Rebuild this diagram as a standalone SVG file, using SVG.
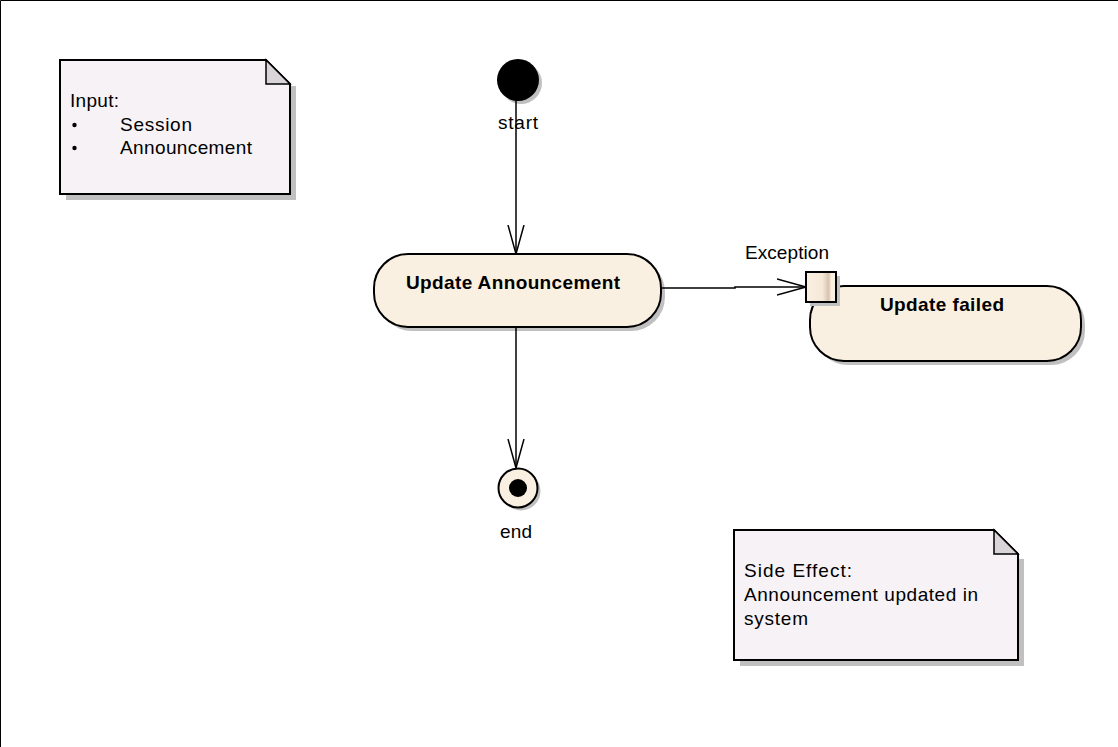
<svg xmlns="http://www.w3.org/2000/svg" width="1118" height="747" viewBox="0 0 1118 747">
<style>
.txt{font-family:"Liberation Sans",Arial,sans-serif;font-size:19px;fill:#000}
.bold{font-weight:bold}
.note{fill:#f6f2f6;stroke:#000;stroke-width:2}
.fold{fill:#d8d4d8;stroke:#000;stroke-width:1.5}
.shadow{fill:#c0c0c0}
.act{fill:#faf0e2;stroke:#000;stroke-width:2}
.edge{fill:none;stroke:#000;stroke-width:1.5}
</style>
<defs>
<marker id="open" viewBox="0 0 30 20" refX="29" refY="10" markerWidth="30" markerHeight="20" markerUnits="userSpaceOnUse" orient="auto">
<path d="M0,2 L29,10 L0,18" fill="none" stroke="#000" stroke-width="1.5"/>
</marker>
<linearGradient id="pinGrad" x1="0" y1="0" x2="1" y2="0">
<stop offset="0" stop-color="#faf0e2"/>
<stop offset="0.55" stop-color="#f5e8d8"/>
<stop offset="0.75" stop-color="#d8c4ae"/>
<stop offset="0.85" stop-color="#faf0e2"/>
<stop offset="1" stop-color="#faf0e2"/>
</linearGradient>
</defs>
<rect x="0" y="0" width="1118" height="747" fill="#fff"/>
<path d="M0.5,747 V0.5 H1118" fill="none" stroke="#000" stroke-width="1"/>

<g id="note-input">
<path class="shadow" d="M296,86 L296,200 L66,200 L66,194 L290,194 L290,86 Z"/>
<path class="note" d="M60,60 L266,60 L290,84 L290,194 L60,194 Z"/>
<path class="fold" d="M266,60 L266,84 L290,84 Z"/>
<text class="txt" x="70" y="107" textLength="49">Input:</text>
<circle cx="74.5" cy="125" r="2.2" fill="#000"/>
<text class="txt" x="120" y="131" textLength="72">Session</text>
<circle cx="74.5" cy="148" r="2.2" fill="#000"/>
<text class="txt" x="120" y="154" textLength="132">Announcement</text>
</g>

<g id="start">
<circle cx="521" cy="83" r="21" fill="#c0c0c0"/>
<circle cx="518" cy="80" r="21" fill="#000"/>
<text class="txt" x="498" y="129" textLength="40">start</text>
</g>

<g id="update-announcement">
<rect x="378" y="258" width="287" height="73" rx="34" ry="34" class="shadow"/>
<rect x="374" y="254" width="287" height="73" rx="34" ry="34" class="act"/>
<text class="txt bold" x="406" y="289" textLength="214">Update Announcement</text>
</g>

<g id="update-failed">
<rect x="814" y="290" width="271" height="75" rx="34" ry="34" class="shadow"/>
<rect x="810" y="286" width="271" height="75" rx="34" ry="34" class="act"/>
<text class="txt bold" x="880" y="311" textLength="124">Update failed</text>
</g>

<g id="exception-pin">
<rect x="810" y="276" width="30" height="30" class="shadow"/>
<rect x="806" y="272" width="30" height="30" fill="url(#pinGrad)" stroke="#000" stroke-width="2"/>
<text class="txt" x="745" y="259" textLength="84">Exception</text>
</g>

<g id="end">
<circle cx="521" cy="491" r="19.5" fill="#c0c0c0"/>
<circle cx="518" cy="488" r="19.5" fill="#faf0e2" stroke="#000" stroke-width="2"/>
<circle cx="518" cy="488" r="9" fill="#000"/>
<text class="txt" x="500" y="538" textLength="32">end</text>
</g>

<g id="note-side-effect">
<path class="shadow" d="M1024,559 L1024,666 L740,666 L740,660 L1018,660 L1018,559 Z"/>
<path class="note" d="M734,530 L994,530 L1018,554 L1018,660 L734,660 Z"/>
<path class="fold" d="M994,530 L994,554 L1018,554 Z"/>
<text class="txt" x="744" y="577" textLength="108">Side Effect:</text>
<text class="txt" x="744" y="601" textLength="234">Announcement updated in</text>
<text class="txt" x="744" y="625" textLength="64">system</text>
</g>

<g id="connectors">
<line class="edge" x1="516" y1="100" x2="516" y2="254" marker-end="url(#open)"/>
<polyline class="edge" points="661,288 735,288 735,287 806,287" marker-end="url(#open)"/>
<line class="edge" x1="516" y1="327" x2="516" y2="468" marker-end="url(#open)"/>
</g>
</svg>
